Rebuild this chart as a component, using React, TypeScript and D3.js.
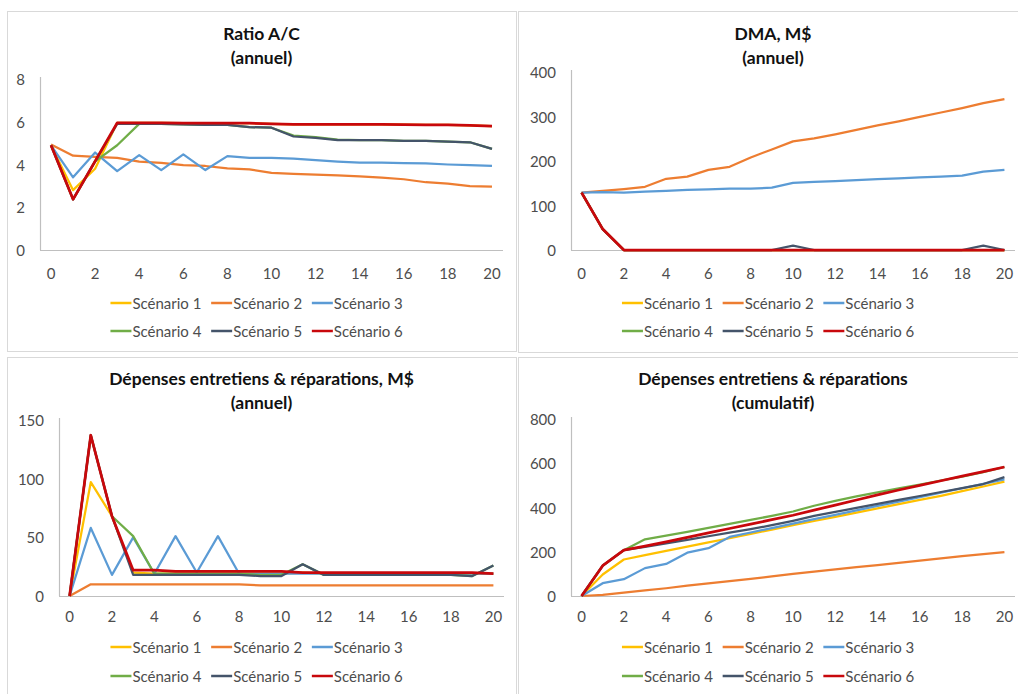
import React from "react";
import * as d3 from "d3";

const years = d3.range(0, 21).map(String);
const xTickLabels = ["0", "2", "4", "6", "8", "10", "12", "14", "16", "18", "20"];
const seriesNames = ["Scénario 1", "Scénario 2", "Scénario 3", "Scénario 4", "Scénario 5", "Scénario 6"];
const seriesColors = ["#FFC000", "#ED7D31", "#5B9BD5", "#70AD47", "#44546A", "#C8080C"];

// Panel 1: Ratio A/C (annuel)
const ratioTicks = [0, 2, 4, 6, 8];
const ratioS1 = [4.9, 2.8, 3.8, 5.95, 5.95, 5.95, 5.93, 5.93, 5.93, 5.93, 5.9, 5.88, 5.88, 5.88, 5.88, 5.88, 5.86, 5.85, 5.85, 5.83, 5.8];
const ratioS2 = [4.94, 4.41, 4.36, 4.31, 4.13, 4.08, 3.97, 3.93, 3.82, 3.77, 3.61, 3.56, 3.53, 3.49, 3.44, 3.39, 3.31, 3.17, 3.1, 2.99, 2.96];
const ratioS3 = [4.9, 3.4, 4.56, 3.69, 4.44, 3.74, 4.47, 3.74, 4.39, 4.31, 4.31, 4.28, 4.2, 4.14, 4.09, 4.09, 4.06, 4.05, 4.0, 3.97, 3.93];
const ratioS4 = [4.9, 2.37, 4.15, 4.9, 5.9, 5.9, 5.88, 5.85, 5.85, 5.75, 5.72, 5.35, 5.28, 5.16, 5.14, 5.14, 5.1, 5.1, 5.07, 5.04, 4.73];
const ratioS5 = [4.9, 2.37, 4.15, 5.9, 5.9, 5.9, 5.88, 5.85, 5.85, 5.75, 5.72, 5.31, 5.25, 5.14, 5.14, 5.14, 5.1, 5.1, 5.07, 5.04, 4.73];
const ratioS6 = [4.9, 2.37, 4.15, 5.95, 5.95, 5.95, 5.93, 5.93, 5.93, 5.93, 5.9, 5.88, 5.88, 5.88, 5.88, 5.88, 5.86, 5.85, 5.85, 5.83, 5.8];

// Panel 2: DMA, M$ (annuel)
const dmaTicks = [0, 100, 200, 300, 400];
const dmaS1 = [129, 47, 0, 0, 0, 0, 0, 0, 0, 0, 0, 0, 0, 0, 0, 0, 0, 0, 0, 0, 0];
const dmaS2 = [129, 133, 137, 142, 160, 165, 180, 187, 208, 226, 244, 251, 260, 270, 280, 289, 299, 309, 319, 330, 339];
const dmaS3 = [129, 130, 129, 131, 133, 135, 136, 138, 138, 140, 151, 153, 155, 157, 159, 161, 163, 165, 167, 176, 180];
const dmaS4 = [129, 47, 0, 0, 0, 0, 0, 0, 0, 0, 0, 0, 0, 0, 0, 0, 0, 0, 0, 0, 0];
const dmaS5 = [129, 47, 0, 0, 0, 0, 0, 0, 0, 0, 10, 0, 0, 0, 0, 0, 0, 0, 0, 10, 0];
const dmaS6 = [129, 47, 0, 0, 0, 0, 0, 0, 0, 0, 0, 0, 0, 0, 0, 0, 0, 0, 0, 0, 0];

// Panel 3: Dépenses entretiens & réparations, M$ (annuel)
const depTicks = [0, 50, 100, 150];
const depS1 = [0, 97, 68, 20, 19, 19, 19, 19, 19, 19, 19, 20, 19, 19, 19, 19, 19, 19, 19, 19, 19];
const depS2 = [0, 10, 10, 10, 10, 10, 10, 10, 10, 9, 9, 9, 9, 9, 9, 9, 9, 9, 9, 9, 9];
const depS3 = [0, 58, 18, 50, 19, 51, 20, 51, 19, 19, 19, 19, 19, 19, 19, 19, 19, 19, 19, 19, 19];
const depS4 = [0, 137, 68, 51, 19, 19, 19, 19, 19, 18, 18, 27, 18, 18, 18, 18, 18, 18, 18, 17, 26];
const depS5 = [0, 137, 68, 18, 18, 18, 18, 18, 18, 17, 17, 27, 18, 18, 18, 18, 18, 18, 18, 17, 26];
const depS6 = [0, 137, 68, 22, 22, 21, 21, 21, 21, 21, 21, 20, 20, 20, 20, 20, 20, 20, 20, 20, 19];

// Panel 4: Dépenses entretiens & réparations (cumulatif)
const cumTicks = [0, 200, 400, 600, 800];
const cumS1 = [0, 97, 165, 185, 204, 223, 242, 261, 281, 300, 320, 339, 358, 377, 396, 415, 434, 453, 474, 495, 517];
const cumS2 = [0, 5, 15, 25, 35, 47, 57, 67, 77, 89, 100, 110, 120, 130, 140, 150, 160, 170, 180, 189, 198];
const cumS3 = [0, 58, 76, 126, 145, 196, 216, 267, 287, 307, 327, 347, 367, 387, 407, 427, 447, 467, 487, 507, 527];
const cumS4 = [0, 137, 207, 256, 273, 290, 308, 326, 344, 362, 382, 408, 430, 450, 468, 486, 504, 522, 540, 560, 583];
const cumS5 = [0, 137, 207, 222, 238, 254, 270, 286, 302, 320, 340, 362, 380, 398, 416, 434, 452, 470, 488, 506, 537];
const cumS6 = [0, 137, 207, 225, 245, 265, 285, 305, 325, 345, 365, 388, 411, 434, 457, 479, 500, 521, 542, 562, 583];

const FONT = "Lato, 'Open Sans', sans-serif";

type PanelSpec = {
  title: string[];
  series: number[][];
  ticks: number[];
  box: [number, number, number, number];
  plot: [number, number, number, number];
  titleY: number;
  xLabelY: number;
  legendY: [number, number];
};

const panels: PanelSpec[] = [
  {
    title: ["Ratio A/C", "(annuel)"],
    series: [ratioS1, ratioS2, ratioS3, ratioS4, ratioS5, ratioS6],
    ticks: ratioTicks,
    box: [7, 11, 516, 351],
    plot: [40, 79, 503, 250],
    titleY: 33,
    xLabelY: 273,
    legendY: [303, 331],
  },
  {
    title: ["DMA, M$", "(annuel)"],
    series: [dmaS1, dmaS2, dmaS3, dmaS4, dmaS5, dmaS6],
    ticks: dmaTicks,
    box: [518, 11, 1028, 352],
    plot: [571, 72, 1015, 250],
    titleY: 33,
    xLabelY: 273,
    legendY: [303, 331],
  },
  {
    title: ["Dépenses entretiens & réparations, M$", "(annuel)"],
    series: [depS1, depS2, depS3, depS4, depS5, depS6],
    ticks: depTicks,
    box: [7, 357, 516, 720],
    plot: [59, 420, 504, 596],
    titleY: 378,
    xLabelY: 616,
    legendY: [647, 676],
  },
  {
    title: ["Dépenses entretiens & réparations", "(cumulatif)"],
    series: [cumS1, cumS2, cumS3, cumS4, cumS5, cumS6],
    ticks: cumTicks,
    box: [518, 357, 1028, 720],
    plot: [571, 419, 1015, 596],
    titleY: 378,
    xLabelY: 616,
    legendY: [647, 676],
  },
];

function Panel({ p }: { p: PanelSpec }) {
  const [bx0, by0, bx1, by1] = p.box;
  const [left, top, right, bottom] = p.plot;
  const x = d3.scalePoint<string>().domain(years).range([left, right]).padding(0.5);
  const y = d3
    .scaleLinear()
    .domain([0, p.ticks[p.ticks.length - 1]])
    .range([bottom, top]);
  const line = d3
    .line<number>()
    .x((_, i) => x(years[i]) as number)
    .y((v) => y(v));
  const cx = (bx0 + bx1) / 2;
  const itemW = 100.7;
  const legendW = itemW * 3;
  const lx0 = cx - legendW / 2;
  return (
    <g>
      <rect x={bx0 + 0.5} y={by0 + 0.5} width={bx1 - bx0} height={by1 - by0} fill="#fff" stroke="#d9d9d9" strokeWidth={1} />
      <text x={cx} y={p.titleY} textAnchor="middle" dominantBaseline="central" fontFamily={FONT} fontWeight={700} fontSize={17.5} fill="#111">
        {p.title[0]}
      </text>
      <text x={cx} y={p.titleY + 24} textAnchor="middle" dominantBaseline="central" fontFamily={FONT} fontWeight={700} fontSize={17.5} fill="#111">
        {p.title[1]}
      </text>
      <line x1={left + 0.5} x2={left + 0.5} y1={top - 2} y2={bottom} stroke="#bfbfbf" strokeWidth={1.2} />
      <line x1={left} x2={right} y1={bottom + 0.5} y2={bottom + 0.5} stroke="#bfbfbf" strokeWidth={1.2} />
      {p.ticks.map((t) => (
        <text key={t} x={left - 15} y={y(t)} textAnchor="end" dominantBaseline="central" fontFamily={FONT} fontSize={15} fill="#4d4d4d">
          {t}
        </text>
      ))}
      {xTickLabels.map((t) => (
        <text key={t} x={x(t) as number} y={p.xLabelY} textAnchor="middle" dominantBaseline="central" fontFamily={FONT} fontSize={15} fill="#4d4d4d">
          {t}
        </text>
      ))}
      {p.series.map((s, i) => (
        <path
          key={i}
          d={line(s) || ""}
          fill="none"
          stroke={seriesColors[i]}
          strokeWidth={i === 5 ? 2.75 : 2.25}
          strokeLinejoin="round"
        />
      ))}
      {seriesNames.map((n, i) => {
        const row = Math.floor(i / 3);
        const col = i % 3;
        const ix = lx0 + col * itemW;
        const iy = p.legendY[row];
        return (
          <g key={n}>
            <line x1={ix} x2={ix + 21} y1={iy} y2={iy} stroke={seriesColors[i]} strokeWidth={2.5} />
            <text x={ix + 22} y={iy} dominantBaseline="central" fontFamily={FONT} fontSize={15} fill="#4d4d4d">
              {n}
            </text>
          </g>
        );
      })}
    </g>
  );
}

export default function App() {
  return (
    <svg
      width={1018}
      height={694}
      style={{ position: "absolute", left: 0, top: 0, background: "#fff" }}
    >
      <rect x={0} y={0} width={1018} height={694} fill="#fff" />
      {panels.map((p, i) => (
        <Panel key={i} p={p} />
      ))}
    </svg>
  );
}
